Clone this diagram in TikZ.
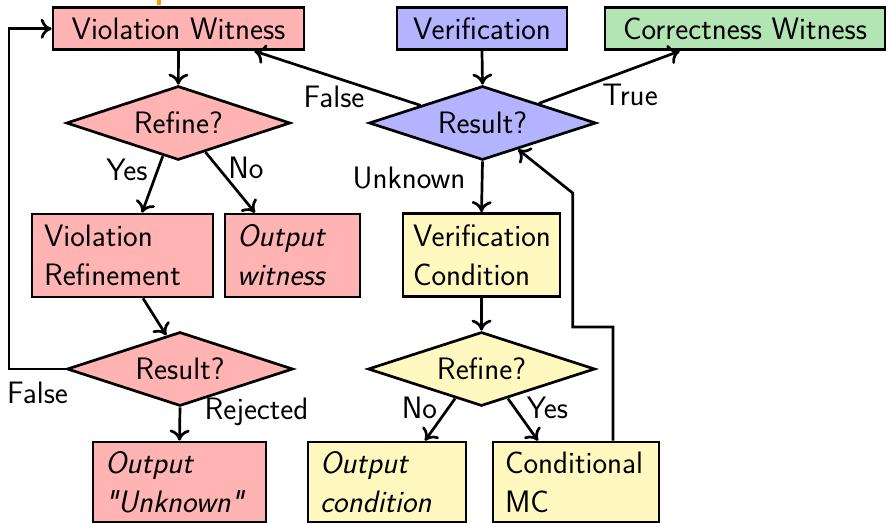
\documentclass[tikz,border=0pt]{standalone}
\usetikzlibrary{shapes.geometric,arrows.meta,calc}
\definecolor{pinkc}{RGB}{255,179,179}
\definecolor{bluec}{RGB}{179,179,255}
\definecolor{greenc}{RGB}{179,228,179}
\definecolor{yellowc}{RGB}{255,249,191}
\definecolor{orangec}{RGB}{255,153,0}
\tikzset{
  box/.style={draw, line width=1.35pt, inner xsep=6pt, inner ysep=0pt, minimum height=21pt},
  mbox/.style={box, align=left, minimum height=41.5pt},
  dia/.style={diamond, draw, line width=1.35pt, aspect=3, inner sep=0pt, minimum width=112pt, minimum height=37pt},
  it/.style={font=\sffamily\itshape\fontsize{15.5}{19.5}\selectfont},
  lbl/.style={inner sep=0pt},
  conn/.style={->, line width=1.35pt}
}
\begin{document}
\begin{tikzpicture}[x=0.5pt,y=-0.5pt, font=\sffamily\fontsize{15.5}{19.5}\selectfont, >={To[length=5.5pt,width=10pt]}]
\useasboundingbox (0,0) rectangle (888,523);
\fill[orangec] (156.7,0) rectangle (160.7,5);

% top row
\node[box,fill=pinkc,minimum width=125.5pt] (vw) at (178.5,28.75) {Violation Witness};
\node[box,fill=bluec,minimum width=85pt] (ver) at (482,28.75) {Verification};
\node[box,fill=greenc,minimum width=140pt] (cw) at (745,28.75) {Correctness Witness};

% diamonds
\node[dia,fill=pinkc] (r1) at (178.3,123) {Refine?};
\node[dia,fill=bluec,minimum width=113.5pt] (res) at (482.5,123) {Result?};
\node[dia,fill=pinkc,minimum width=113pt] (r2) at (180,369) {Result?};
\node[dia,fill=yellowc,minimum width=113.5pt] (yd) at (481.5,369) {Refine?};

% middle boxes
\node[mbox,fill=pinkc,text width=78.5pt] (vr) at (122.5,255.5) {Violation\\Refinement};
\node[mbox,fill=pinkc,text width=55.5pt,it] (ow) at (292.5,255.5) {Output\\witness};
\node[mbox,fill=yellowc,text width=68.5pt,inner xsep=5pt] (vc) at (481.5,255) {Verification\\Condition};

% bottom boxes
\node[mbox,fill=pinkc,text width=74.5pt,minimum height=40pt,it] (ou) at (179.5,482) {Output\\\textquotedbl Unknown\textquotedbl};
\node[mbox,fill=yellowc,text width=67pt,minimum height=40pt,it] (oc) at (387,482) {Output\\condition};
\node[mbox,fill=yellowc,text width=71pt,minimum height=40pt] (cmc) at (576,482) {Conditional\\MC};

% labels
\node[lbl] (lf1) at (334,97) {False};
\node[lbl] (lt1) at (630,95) {True};
\node[lbl] (lu) at (409,178) {Unknown};
\node[lbl] (ly1) at (127,170) {Yes};
\node[lbl] (ln1) at (246,168) {No};
\node[lbl] (lf2) at (37.5,393) {False};
\node[lbl] (lrej) at (256.5,412) {Rejected};
\node[lbl] (ln2) at (419.5,408) {No};
\node[lbl] (ly2) at (547.5,408) {Yes};

% connectors
\draw[conn] (vw.south) -- (r1.north);
\draw[conn] (ver.south) -- (res.north);
\draw[conn] ($(res.north)!0.54!(res.west)$) -- ($(vw.south east)+(-51,0)$);
\draw[conn] ($(res.north)!0.49!(res.east)$) -- ($(cw.south west)+(76,0)$);
\draw[conn] (res.south) -- (vc.north);
\draw[conn] ($(r1.south)!0.137!(r1.west)$) -- ($(vr.north)+(19.5,0)$);
\draw[conn] ($(r1.south)!0.24!(r1.east)$) -- ($(ow.north)+(-37.5,0)$);
\draw[conn] ($(vr.south)+(20.5,0)$) -- ($(r2.north)!0.12!(r2.west)$);
\draw[conn] (r2.south) -- (ou.north);
\coordinate (lp) at (9,369);
\draw[conn] (r2.west) -- (lp) |- (vw.west);
\draw[conn] (vc.south) -- (yd.north);
\draw[conn] ($(yd.south)!0.23!(yd.west)$) -- ($(oc.north)+(38,0)$);
\draw[conn] ($(yd.south)!0.23!(yd.east)$) -- ($(cmc.north)+(-38,0)$);
\coordinate (c1) at (572.7,327);
\coordinate (c2) at (572.7,193);
\draw[conn] ($(cmc.north)+(37,0)$) |- (c1) -- (c2) -- ($(res.south)!0.31!(res.east)$);
\end{tikzpicture}
\end{document}
